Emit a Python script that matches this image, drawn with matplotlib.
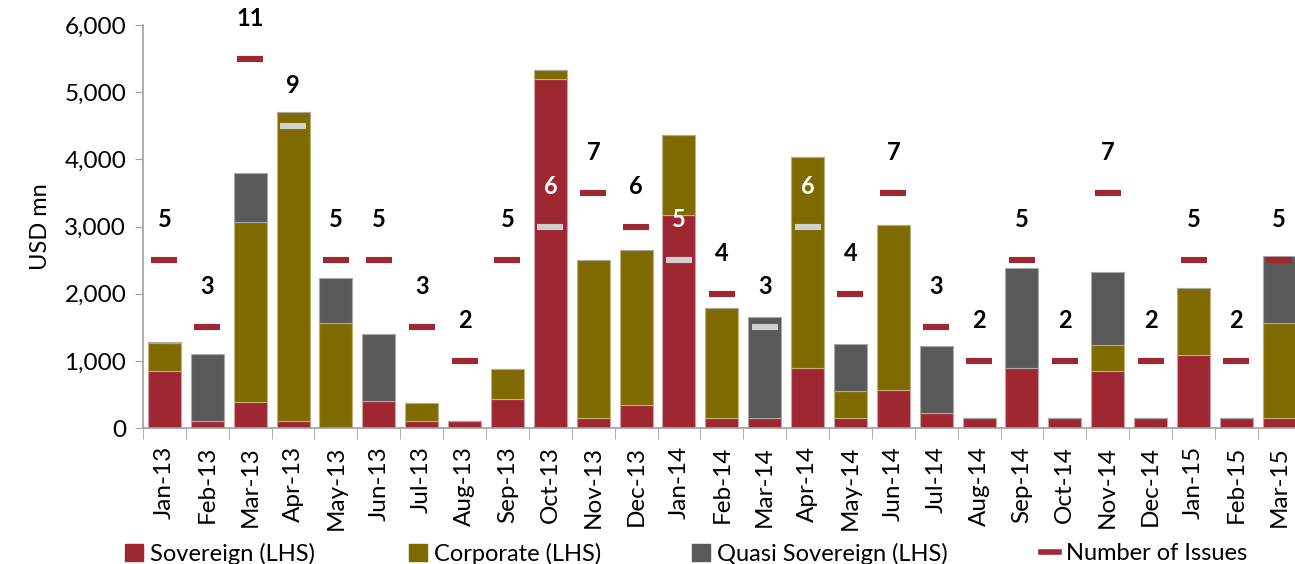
import numpy as np
import matplotlib
matplotlib.use('Agg')
import matplotlib.pyplot as plt
from matplotlib.patches import Patch
from matplotlib.lines import Line2D

plt.rcParams['font.family'] = ['Lato', 'DejaVu Sans']

months = ['Jan-13', 'Feb-13', 'Mar-13', 'Apr-13', 'May-13', 'Jun-13', 'Jul-13',
          'Aug-13', 'Sep-13', 'Oct-13', 'Nov-13', 'Dec-13', 'Jan-14', 'Feb-14',
          'Mar-14', 'Apr-14', 'May-14', 'Jun-14', 'Jul-14', 'Aug-14', 'Sep-14',
          'Oct-14', 'Nov-14', 'Dec-14', 'Jan-15', 'Feb-15', 'Mar-15']
sovereign = [850, 100, 380, 100, 0, 400, 100, 100, 430, 5200, 150, 340, 3170, 150,
             150, 900, 150, 560, 230, 150, 900, 150, 850, 150, 1080, 150, 150]
corporate = [410, 0, 2690, 4600, 1570, 0, 270, 0, 450, 130, 2350, 2310, 1190, 1630,
             0, 3140, 400, 2470, 0, 0, 0, 0, 385, 0, 1000, 0, 1410]
quasi = [25, 1000, 725, 0, 660, 1000, 0, 0, 0, 0, 0, 0, 0, 0,
         1500, 0, 695, 0, 990, 0, 1490, 0, 1090, 0, 0, 0, 1000]
issues = [5, 3, 11, 9, 5, 5, 3, 2, 5, 6, 7, 6, 5, 4, 3, 6, 4, 7, 3, 2, 5, 2, 7, 2, 5, 2, 5]
# months where the issue marker sits inside the bar and is drawn light
light_marks = ['Apr-13', 'Oct-13', 'Jan-14', 'Mar-14', 'Apr-14']

red = '#9E2731'
olive = '#7F6A00'
grey = '#595959'
light = '#D0D0D0'

sov = np.array(sovereign)
corp = np.array(corporate)
qs = np.array(quasi)
x = np.arange(len(months))
total = sov + corp + qs
scale = 500  # issues drawn against the LHS axis

fig = plt.figure(figsize=(12.95, 5.64), dpi=100)
ax = fig.add_axes([0.1104, 0.2411, 0.894, 0.7145])

w = 0.77
ax.bar(x, sov, w, color=red, edgecolor='#C9A0A3', linewidth=0.8)
ax.bar(x, corp, w, bottom=sov, color=olive, edgecolor='#BFB27A', linewidth=0.8)
ax.bar(x, qs, w, bottom=sov + corp, color=grey, edgecolor='#A8A8A8', linewidth=0.8)

for i, n in enumerate(issues):
    c = light if months[i] in light_marks else red
    ax.plot(x[i], n * scale, marker='_', markersize=19, markeredgewidth=4.4,
            color=c, linestyle='none')
    ty = n * scale + 600
    tc = 'white' if ty < total[i] else 'black'
    ax.text(x[i], ty, str(n), ha='center', va='center', fontsize=17,
            fontweight='bold', color=tc, clip_on=False)

ax.set_xlim(-0.5, len(months) - 0.5)
ax.set_ylim(0, 6000)
ax.set_yticks(np.arange(0, 6001, 1000))
ax.set_yticklabels(['{:,}'.format(v) for v in range(0, 6001, 1000)], fontsize=17.5)
ax.set_xticks(x)
ax.set_xticklabels(months, rotation=90, fontsize=17.5)
ax.set_xticks(np.arange(-0.5, len(months), 1), minor=True)
ax.tick_params(axis='x', which='major', length=0, pad=13)
ax.tick_params(axis='x', which='minor', length=8, color='#A0A0A0', direction='out')
ax.tick_params(axis='y', length=6, color='#A0A0A0', pad=6)
ax.set_ylabel('USD mn', fontsize=17, labelpad=10)

for s in ['top', 'right']:
    ax.spines[s].set_visible(False)
for s in ['left', 'bottom']:
    ax.spines[s].set_color('#A0A0A0')
    ax.spines[s].set_linewidth(1.2)

handles = [Patch(color=red), Patch(color=olive), Patch(color=grey),
           Line2D([], [], color=red, linewidth=4)]
labels = ['Sovereign (LHS)', 'Corporate (LHS)', 'Quasi Sovereign (LHS)', 'Number of Issues']
lx = [125, 409, 692, 1041]
for h, lab, px in zip(handles, labels, lx):
    fig.legend([h], [lab], loc='center left', bbox_to_anchor=(px / 1295, 0.018),
               frameon=False, fontsize=17, handlelength=0.75, handleheight=0.75,
               handletextpad=0.3, borderpad=0, borderaxespad=0)

fig.savefig('out.png', dpi=100)
